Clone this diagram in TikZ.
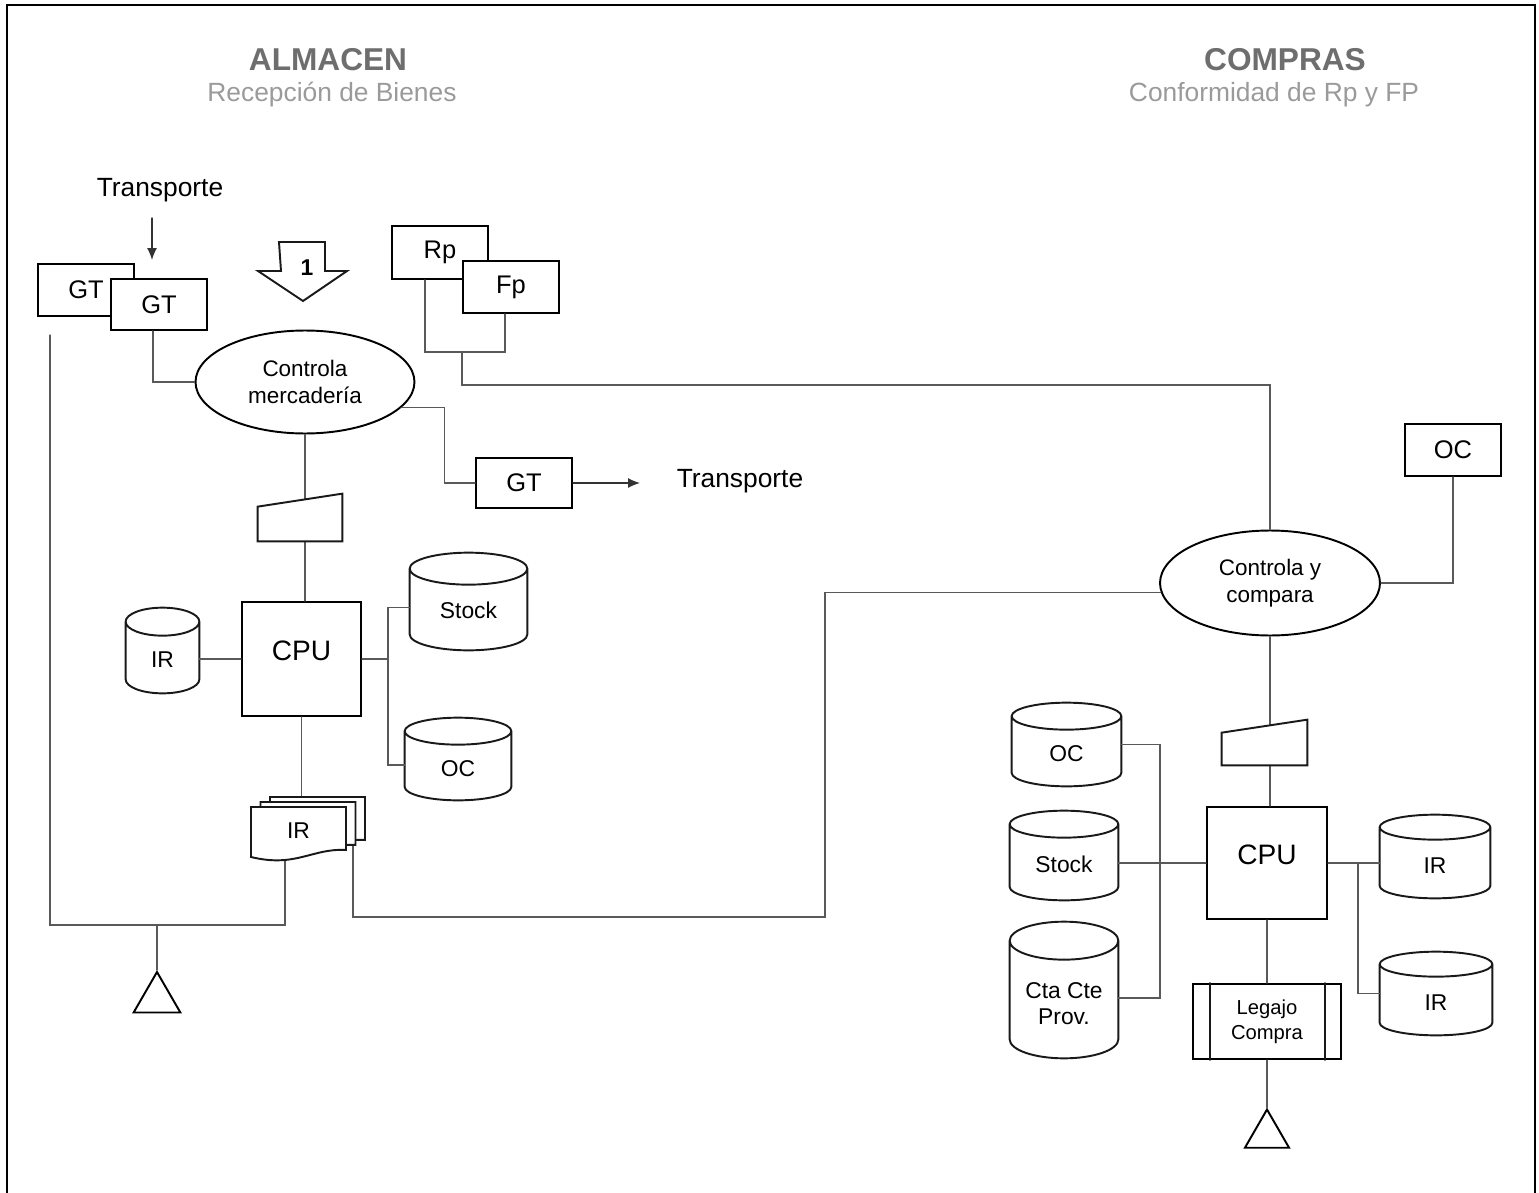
\documentclass[tikz,border=0pt]{standalone}
\usepackage{fontspec}
\setmainfont{Liberation Sans}
\usetikzlibrary{arrows.meta, shapes.geometric, calc}

\definecolor{titlegray}{HTML}{6E6E6E}
\definecolor{subgray}{HTML}{9A9A9A}

\pgfdeclarelayer{back}
\pgfsetlayers{back,main}

\begin{document}
\begin{tikzpicture}[
    x=0.02cm, y=-0.02cm,
    >=Latex,
    line cap=round,
    frame/.style={line width=1.3pt},
    link/.style={line width=0.7pt, black!65},
    flow/.style={line width=0.7pt, black!80, -{Latex[length=2.4mm, width=2mm]}},
    shape line/.style={line width=1.1pt, black!90},
    form/.style={rectangle, draw, line width=1.1pt, fill=white, minimum width=1.92cm, minimum height=1.04cm, inner sep=0pt, font=\fontsize{14.5}{17}\selectfont},
    process/.style={ellipse, draw, line width=1.1pt, fill=white, align=center, inner sep=0pt, font=\fontsize{12.8}{15.3}\selectfont},
    cpu/.style={rectangle, draw, line width=1.2pt, fill=white, inner sep=0pt, label={[font=\fontsize{16}{19}\selectfont, yshift=0.17cm]center:CPU}},
    disk/.style={rectangle, inner sep=0pt, align=center, text height=19.5pt, text depth=0pt, font=\fontsize{13}{14.7}\selectfont},
    ground/.style={regular polygon, regular polygon sides=3, draw, line width=1.1pt, inner sep=0pt},
    blank/.style={inner sep=0pt},
    caption/.style={font=\fontsize{15}{18}\selectfont},
    section title/.style={font=\fontsize{18}{21}\selectfont\bfseries, text=titlegray},
    section sub/.style={font=\fontsize{15}{18}\selectfont, text=subgray},
  ]
  \useasboundingbox (0,0) rectangle (1539,1193);
  \draw[frame] (7,5) rectangle (1535,1200);

  % Section headings
  \node[section title] (almacen) at (328,60) {ALMACEN};
  \node[section sub] (recepcion) at (332,95) {Recepción de Bienes};
  \node[section title] (compras) at (1285,60) {COMPRAS};
  \node[section sub] (conformidad) at (1274,95) {Conformidad de Rp y FP};

  % Almacen: incoming documents
  \node[caption] (transIn) at (160,190) {Transporte};
  \coordinate (transInTop) at (152,218);
  \coordinate (transInEnd) at (152,260);
  \node[form] (gtA) at (86,290) {GT};
  \node[form, minimum height=1.02cm] (gtB) at (159,304.5) {GT};
  \draw[shape line, fill=white] (279,242) -- (325,242) -- (325,271) -- (347,271)
    -- (303,301) -- (258,271) -- (281,271) -- cycle;
  \node[blank, font=\fontsize{13}{15}\selectfont\bfseries] (stepOne) at (307,268) {1};
  \node[form, minimum height=1.06cm] (rp) at (440,252.5) {Rp};
  \node[form] (fp) at (511,287) {Fp};

  % Almacen: control and data entry
  \node[process, minimum width=4.38cm, minimum height=2.06cm] (ctrlMerc) at (305,382) {Controla\\mercadería};
  \node[form, minimum height=1.0cm] (gtOut) at (524,483) {GT};
  \node[caption] (transOut) at (740,481) {Transporte};
  \coordinate (transOutEnd) at (640,483);
  \node[blank, minimum width=1.68cm, minimum height=0.94cm] (entryA) at (300,517.5) {};
  \node[cpu, minimum width=2.38cm, minimum height=2.28cm] (cpuA) at (301.5,659) {};
  \node[disk, minimum width=1.46cm, minimum height=1.7cm] (irA) at (162.5,650.5) {IR};
  \node[disk, minimum width=2.34cm, minimum height=1.94cm] (stockA) at (468.5,601.5) {Stock};
  \node[disk, minimum width=2.12cm, minimum height=1.64cm] (ocA) at (458,759) {OC};
  \node[ground, minimum size=1.08cm] (fileA) at (157,999) {};

  % Compras nodes
  \node[form] (ocDoc) at (1453,450) {OC};
  \node[process, minimum width=4.4cm, minimum height=2.1cm] (ctrlComp) at (1270,583) {Controla y\\compara};
  \node[blank, minimum width=1.7cm, minimum height=0.9cm] (entryB) at (1264.5,742.5) {};
  \node[cpu, minimum width=2.4cm, minimum height=2.24cm] (cpuB) at (1267,863) {};
  \node[disk, minimum width=2.18cm, minimum height=1.66cm] (ocB) at (1066.5,744.5) {OC};
  \node[disk, minimum width=2.16cm, minimum height=1.78cm] (stockB) at (1064,855.5) {Stock};
  \node[disk, minimum width=2.16cm, minimum height=2.72cm, text height=39pt] (ctaB) at (1064,990) {Cta Cte\\Prov.};
  \node[disk, minimum width=2.2cm, minimum height=1.66cm] (irC) at (1435,856.5) {IR};
  \node[disk, minimum width=2.24cm, minimum height=1.66cm] (irD) at (1436,993.5) {IR};
  \node[form, minimum width=2.96cm, minimum height=1.5cm, align=center, font=\fontsize{11.5}{14}\selectfont] (legajo) at (1267,1021.5) {Legajo\\Compra};
  \draw[shape line] ($(legajo.north west)+(18,0)$) -- ($(legajo.south west)+(18,0)$);
  \draw[shape line] ($(legajo.north east)+(-17,0)$) -- ($(legajo.south east)+(-17,0)$);
  \node[ground, minimum size=1.02cm] (fileB) at (1267,1135) {};

  % Disk files behind their labels (cap half-height in cm)
  \begin{pgfonlayer}{back}
    \foreach \dk/\cap in {irA/0.28, stockA/0.32, ocA/0.27, ocB/0.27, stockB/0.27, ctaB/0.38, irC/0.25, irD/0.25}
      \draw[shape line, fill=white] let \p1=($(\dk.east)-(\dk.west)$) in
        ($(\dk.north west)+(0,-\cap cm)$) -- ($(\dk.south west)+(0,\cap cm)$)
        arc[start angle=180, end angle=360, x radius=0.5*\x1, y radius=\cap cm]
        -- ($(\dk.north east)+(0,-\cap cm)$)
        arc[start angle=0, end angle=180, x radius=0.5*\x1, y radius=\cap cm]
        ($(\dk.north)+(0,-\cap cm)$) ellipse[x radius=0.5*\x1, y radius=\cap cm];
  \end{pgfonlayer}

  % Bends and free ends of the flow lines
  \coordinate (rpJoin) at (462,352);
  \coordinate (rpDrop) at (462,385);
  \coordinate (busA) at (388,659);
  \coordinate (irTop) at (305,820);
  \coordinate (rackTop) at (50,335);
  \coordinate (groundJoin) at (157,925);
  \coordinate (irFootL) at (285,850);
  \coordinate (irFootR) at (353,840);
  \coordinate (crossBend) at (825,917);
  \coordinate (busB) at (1160,863);
  \coordinate (busC) at (1358,863);

  % Almacen flow
  \draw[flow] (transInTop) -- (transInEnd);
  \draw[link] ($(gtB.south)+(-6,0)$) |- (ctrlMerc.west);
  \draw[link] ($(rp.south)+(-15,0)$) |- (rpJoin) -| ($(fp.south)+(-6,0)$);
  \draw[link] (rpJoin) -- (rpDrop) -| (ctrlComp.north);
  \draw[link] (ctrlMerc.-15) -- ++(43,0) |- (gtOut.west);
  \draw[flow] (gtOut.east) -- (transOutEnd);
  \draw[link] (ctrlMerc.south) -- (ctrlMerc.south |- cpuA.north);
  \draw[link] (irA.east |- cpuA.west) -- (cpuA.west);
  \draw[link] (cpuA.east) -- (busA);
  \draw[link] ($(stockA.west)+(0,6)$) -| (busA) |- ($(ocA.west)+(0,6)$);
  \draw[link] (cpuA.south) -- (cpuA.south |- irTop);
  \draw[link] (rackTop) |- (groundJoin) -| (irFootL);
  \draw[link] (groundJoin) -- (fileA.corner 1);
  \draw[link] (irFootR) |- (crossBend) |- (ctrlComp.185);

  % Compras flow
  \draw[link] (ocDoc.south) |- (ctrlComp.east);
  \draw[link] (ctrlComp.south) -- (ctrlComp.south |- cpuB.north);
  \draw[link] (stockB.east |- cpuB.west) -- (cpuB.west);
  \draw[link] (ocB.east) -| (busB) |- ($(ctaB.east)+(0,8)$);
  \draw[link] (cpuB.east) -- (irC.west |- cpuB.east);
  \draw[link] (busC) |- (irD.west);
  \draw[link] (cpuB.south) -- (legajo.north);
  \draw[link] (legajo.south) -- (fileB.corner 1);

  % Manual input terminals, drawn over the lines
  \foreach \mi in {entryA, entryB}
    \draw[shape line, fill=white] (\mi.south west) -- ($(\mi.north west)+(0,13)$)
      -- (\mi.north east) -- (\mi.south east) -- cycle;

  % Stacked IR printouts
  \foreach \dx/\dy in {19/-10, 9.5/-5, 0/0}
    \draw[shape line, fill=white, shift={(\dx,\dy)}] (251,807) -- (346,807) -- (346,850)
      .. controls (312,848) and (296,868) .. (251,857) -- cycle;
  \node[blank, font=\fontsize{13}{15}\selectfont] (irPrint) at (298.5,831) {IR};
\end{tikzpicture}
\end{document}
